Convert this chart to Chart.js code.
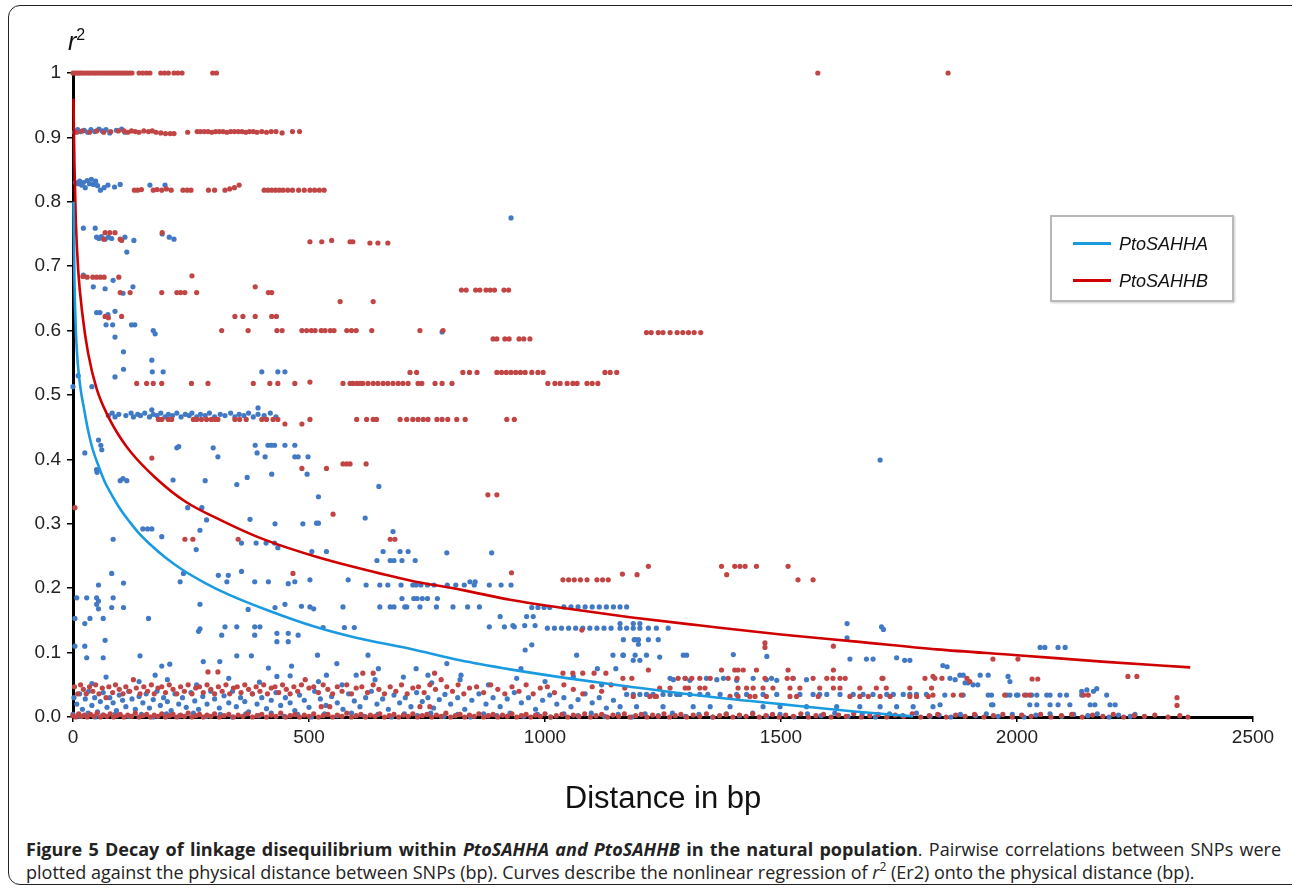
<!DOCTYPE html>
<html>
<head>
  <title>Decay of linkage disequilibrium</title>
  <script src="https://cdn.jsdelivr.net/npm/chart.js"></script>
  <style>
    body {
      margin: 0;
      width: 1292px;
      height: 888px;
      overflow: hidden;
      background: #ffffff;
      font-family: "Liberation Sans", Arial, sans-serif;
      position: relative;
    }
    .frame {
      position: absolute;
      left: 8px;
      top: 5px;
      width: 1296px;
      height: 878px;
      border: 1.5px solid #222;
      border-radius: 12px;
    }
    #ldChart {
      position: absolute;
      left: 0;
      top: 0;
    }
    .ylab {
      position: absolute;
      left: 68px;
      top: 26px;
      font-size: 25px;
      color: #111;
    }
    .ylab sup { font-size: 16px; vertical-align: 10px; }
    .legend {
      position: absolute;
      left: 1050px;
      top: 215px;
      width: 180px;
      height: 83px;
      border: 2px solid #b8b8b8;
      box-shadow: 1px 1px 2px rgba(0,0,0,0.2);
      background: #fff;
    }
    .legend .item {
      position: absolute;
      left: 21px;
      height: 20px;
      line-height: 20px;
      font-size: 18px;
      font-style: italic;
      color: #111;
    }
    .legend .swatch {
      display: inline-block;
      width: 38px;
      height: 3px;
      vertical-align: middle;
      margin-right: 8px;
      margin-top: -3px;
    }
    .caption {
      position: absolute;
      left: 26px;
      top: 838px;
      width: 1255px;
      font-family: "Open Sans", sans-serif;
      font-size: 18px;
      line-height: 23px;
      color: #222;
    }
    .caption div { height: 23px; white-space: nowrap; }
    .caption .l1 { text-align: justify; text-align-last: justify; }
    .caption sup { font-size: 12px; line-height: 0; position: relative; top: -1px; }
  </style>
</head>
<body>
  <div class="frame"></div>
  <canvas id="ldChart" width="1292" height="820"></canvas>
  <div class="ylab"><i>r</i><sup>2</sup></div>
  <div class="legend">
    <div class="item" style="top:17px"><span class="swatch" style="background:#1a9ae0"></span>PtoSAHHA</div>
    <div class="item" style="top:54px"><span class="swatch" style="background:#d00000"></span>PtoSAHHB</div>
  </div>
  <div class="caption">
    <div class="l1"><b>Figure 5 Decay of linkage disequilibrium within <i>PtoSAHHA and PtoSAHHB</i> in the natural population</b>. Pairwise correlations between SNPs were</div>
    <div>plotted against the physical distance between SNPs (bp). Curves describe the nonlinear regression of <i>r</i><sup>2</sup> (Er2) onto the physical distance (bp).</div>
  </div>

  <script>
    // axis labels
    const yTickLabels = ['0.0','0.1','0.2','0.3','0.4','0.5','0.6','0.7','0.8','0.9','1'];
    const xTickValues = [0, 500, 1000, 1500, 2000, 2500];

    // regression curves (bp, r2)
    const blueCurveX = [1,3,6,10,16,23,32,42,55,68,82,100,120,139,165,195,231,280,330,415,513,600,714,820,926,1050,1180,1330,1500,1650,1780];
    const blueCurveY = [0.80,0.68,0.60,0.55,0.51,0.48,0.445,0.415,0.388,0.364,0.345,0.323,0.303,0.286,0.267,0.248,0.229,0.208,0.19,0.165,0.14,0.123,0.106,0.088,0.074,0.06,0.047,0.033,0.02,0.009,0.001];
    const redCurveX = [1,3,6,11,20,32,50,75,100,124,174,237,315,400,510,600,714,826,926,1050,1180,1330,1500,1660,1830,2000,2180,2367];
    const redCurveY = [0.96,0.86,0.77,0.694,0.625,0.565,0.51,0.466,0.434,0.41,0.372,0.335,0.305,0.277,0.25,0.232,0.212,0.197,0.182,0.168,0.155,0.142,0.128,0.117,0.105,0.096,0.086,0.077];

    // PtoSAHHB pairs, upper rows
    const redRows = [
      [0,1],[4,1],[8,1],[12,1],[16,1],[20,1],[25,1],[30,1],[35,1],[40,1],[45,1],[50,1],[55,1],[60,1],[65,1],[70,1],[75,1],[80,1],[85,1],[90,1],[95,1],[100,1],[105,1],[110,1],[115,1],[120,1],[125,1],[140,1],[148,1],[156,1],[163,1],[186,1],[194,1],[202,1],[214,1],[222,1],[231,1],[296,1],[304,1],[1578,1],[1854,1],
      [8,.908],[20,.91],[35,.908],[50,.91],[65,.908],[80,.909],[96,.91],[108,.91],[116,.908],[124,.91],[132,.909],[140,.908],[150,.91],[160,.909],[168,.91],[176,.908],[186,.907],[196,.906],[206,.906],[214,.906],[243,.908],[263,.909],[270,.909],[278,.909],[286,.909],[294,.908],[302,.909],[310,.909],[318,.909],[326,.908],[334,.909],[342,.909],[350,.909],[358,.909],[366,.908],[374,.909],[382,.909],[390,.908],[400,.909],[410,.908],[420,.909],[430,.909],[443,.907],[465,.909],[480,.909],
      [130,.818],[137,.818],[145,.819],[170,.818],[178,.819],[188,.818],[198,.82],[208,.818],[233,.818],[242,.818],[250,.818],[287,.818],[300,.818],[322,.818],[332,.82],[342,.822],[352,.826],[405,.818],[413,.818],[421,.818],[429,.818],[437,.818],[445,.818],[455,.818],[465,.818],[478,.818],[490,.818],[502,.818],[512,.818],[522,.818],[532,.818],
      [68,.752],[78,.752],[89,.752],[65,.742],[100,.742],[103,.74],[189,.752],[502,.738],[527,.738],[548,.74],[587,.738],[593,.738],[629,.736],[646,.736],[667,.736],
      [21,.684],[30,.683],[42,.683],[50,.683],[58,.683],[66,.683],[97,.683],[252,.685],[100,.659],[121,.659],[188,.659],[220,.659],[228,.659],[237,.659],[262,.659],[386,.668],[414,.659],[421,.659],
      [566,.645],[636,.645],
      [823,.663],[833,.663],[853,.663],[862,.663],[875,.663],[884,.663],[893,.663],[913,.663],[923,.663],
      [68,.622],[75,.62],[103,.622],[343,.622],[360,.622],[386,.622],[421,.622],[431,.622],
      [315,.6],[371,.6],[432,.6],[443,.6],[485,.6],[495,.6],[505,.6],[513,.6],[526,.6],[534,.6],[545,.6],[553,.6],[580,.6],[590,.6],[600,.6],[633,.6],[735,.6],[784,.6],
      [890,.587],[898,.587],[915,.587],[924,.587],[945,.587],[955,.587],[968,.587],
      [1215,.597],[1225,.597],[1240,.597],[1250,.597],[1265,.597],[1280,.597],[1292,.597],[1304,.597],[1316,.597],[1330,.597]
    ];

    // PtoSAHHB pairs, middle rows and scattered points
    const redMid = [
      [714,.535],[728,.535],[826,.535],[840,.535],[856,.535],[898,.535],[908,.535],[918,.535],[928,.535],[938,.535],[948,.535],[958,.535],[972,.535],[985,.535],[996,.535],[1127,.535],[1138,.535],[1152,.535],
      [135,.518],[156,.518],[170,.518],[188,.518],[251,.518],[286,.518],[382,.518],[417,.518],[434,.518],[470,.518],[502,.52],
      [572,.518],[587,.518],[593,.518],[601,.518],[608,.518],[614,.518],[625,.518],[636,.518],[646,.518],[657,.518],[667,.518],[678,.518],[689,.518],[699,.518],[710,.518],[731,.518],[739,.518],[767,.518],[782,.518],[803,.518],
      [1006,.518],[1021,.518],[1032,.518],[1047,.518],[1059,.518],[1068,.518],[1089,.518],[1100,.518],[1112,.518],
      [181,.462],[188,.462],[202,.462],[209,.462],[255,.462],[262,.462],[272,.462],[283,.462],[293,.462],[301,.462],[307,.462],[343,.462],[353,.462],[367,.462],[400,.462],[410,.462],[424,.462],[434,.462],[449,.455],[485,.455],[502,.462],
      [601,.462],[622,.462],[636,.462],[643,.462],[693,.462],[707,.462],[720,.462],[731,.462],[742,.462],[752,.462],[771,.462],[782,.462],[794,.462],[813,.462],[831,.462],[919,.462],[935,.462],
      [4,.325],[167,.402],[485,.386],[537,.386],[572,.393],[580,.393],[587,.393],[621,.393],[879,.345],[898,.345],[551,.315],
      [237,.276],[254,.276],[350,.276],[672,.276],[682,.276],[466,.223],[929,.224],[1078,.135],
      [1038,.213],[1050,.213],[1062,.213],[1075,.213],[1089,.213],[1110,.213],[1122,.213],[1134,.213],[1164,.222],[1195,.221],[1219,.234],[1374,.234],[1385,.221],[1402,.234],[1413,.234],[1424,.234],[1448,.234],[1515,.234],[1536,.213],[1568,.213],
      [1466,.115],[1466,.108],[1611,.11],[1949,.09],[2002,.09]
    ];

    // PtoSAHHB pairs, low band 0.02-0.075
    const redBand = [
      [286,.07],[307,.07],[614,.068],[636,.068],[766,.068],[1038,.068],[1059,.068],[1080,.068],[1104,.068],[1129,.068],
      [1219,.073],[1374,.073],[1402,.073],[1409,.073],[1420,.073],[1448,.073],[1515,.073],[1611,.073],
      [3,.047],[10,.036],[16,.05],[22,.043],[28,.036],[35,.047],[42,.04],[48,.05],[55,.036],[62,.045],[70,.03],[76,.047],[84,.038],[90,.05],[98,.043],[106,.036],[112,.047],[120,.04],[128,.058],[134,.045],[142,.036],[150,.047],[158,.04],[166,.05],[172,.036],[180,.045],[188,.047],[196,.038],[204,.05],[212,.043],[220,.036],[228,.047],[236,.04],[244,.05],[252,.036],[260,.045],[268,.047],[276,.038],[284,.05],[292,.043],[300,.036],[308,.047],[316,.04],[324,.05],[332,.036],[340,.045],[348,.047],[356,.038],[364,.05],[372,.043],[380,.036],[388,.047],[396,.04],[404,.05],[412,.036],[420,.045],[428,.047],[436,.038],[444,.05],[452,.043],[460,.036],[468,.047],[476,.04],[484,.05],[492,.058],[500,.045],[510,.047],[520,.038],[530,.05],[540,.043],[550,.036],[560,.047],[570,.04],[580,.05],[590,.036],[600,.045],[612,.047],[624,.038],[636,.05],[648,.043],[660,.036],[672,.047],[684,.04],[696,.05],[708,.036],[720,.045],[732,.047],[744,.038],[756,.05],[768,.043],[780,.058],[792,.047],[804,.04],[816,.05],[828,.036],[840,.045],[855,.047],[870,.038],[885,.05],[900,.043],[915,.036],[930,.047],[945,.04],[960,.05],[975,.036],[990,.045],[1005,.047],[1020,.038],[1040,.05],[1060,.043],[1080,.036],[1100,.047],[1120,.04],[1140,.05],
      [526,.016],[544,.016],[735,.016],[756,.016],
      [1165,.06],[1184,.06],[1282,.06],[1297,.06],[1311,.06],[1328,.06],[1350,.06],[1388,.06],[1407,.06],[1466,.06],[1513,.06],[1525,.06],[1568,.06],[1597,.06],[1610,.06],[1625,.06],[1636,.06],[1714,.06],[1716,.06],[1805,.06],[1826,.06],
      [1169,.045],[1243,.045],[1265,.045],[1297,.045],[1304,.045],[1328,.045],[1339,.045],[1409,.045],[1427,.045],[1441,.045],[1462,.045],[1483,.045],[1519,.045],[1540,.045],[1582,.045],[1611,.045],[1625,.045],[1667,.045],[1702,.045],[1723,.045],[1773,.045],[1819,.045],
      [1187,.032],[1222,.032],[1233,.032],[1236,.032],[1392,.032],[1409,.032],[1434,.032],[1445,.032],[1469,.032],[1519,.032],[1533,.032],[1579,.032],[1646,.032],[1667,.032],[1685,.032],[1710,.032],[1731,.032],[1773,.032],[1787,.032],[1812,.032],
      [1822,.063],[1841,.06],[1894,.06],[1900,.055],[2032,.059],[2044,.059],[2235,.063],[2254,.063],
      [1822,.034],[1865,.034],[1882,.034],[1974,.034],[2016,.034],[2027,.034],[2141,.034],[2151,.034],[2339,.03],[2339,.018]
    ];

    // PtoSAHHB pairs at r2 close to zero
    const redZero = [
      [0,.002],[6,0],[12,.005],[18,.001],[24,.003],[30,0],[37,.004],[44,.001],[51,.006],[58,0],[65,.003],[72,.001],[79,.005],[86,0],[93,.002],[100,.004],[108,0],[116,.003],[124,.001],[132,.006],[140,0],[148,.002],[156,.004],[164,0],[172,.003],[180,.001],[188,.005],[196,0],[204,.002],[212,.004],[220,0],[228,.003],[236,.001],[244,.006],[252,0],[260,.002],[268,.004],[276,0],[284,.003],[292,.001],[300,.005],[310,0],[320,.002],[330,.004],[340,0],[350,.003],[360,.001],[370,.005],[380,0],[390,.002],[400,.004],[410,0],[420,.003],[430,.001],[440,.006],[450,0],[460,.002],[470,.004],[480,0],[490,.003],[500,.001],[510,.005],[520,0],[530,.002],[540,.004],[550,0],[560,.003],[570,.001],[580,.006],[590,0],[600,.002],[610,.004],[620,0],[630,.003],[640,.001],[650,.005],[660,0],[670,.002],[680,.004],[690,0],[700,.003],[710,.001],[720,.005],[730,0],[740,.002],[750,.004],[760,0],[770,.003],[780,.001],[790,.006],[800,0],[810,.002],[820,.004],[830,0],[840,.003],[850,.001],[860,.005],[870,0],[880,.002],[890,.004],[900,0],[910,.003],[920,.001],[930,.005],[940,0],[950,.002],[960,.004],[970,0],[980,.003],[990,.001],[1000,.005],[1012,0],[1024,.002],[1036,.004],[1048,0],[1060,.003],[1072,.001],[1084,.005],[1096,0],[1108,.002],[1120,.004],[1132,0],[1144,.003],[1156,.001],[1168,.005],[1180,0],[1192,.002],[1204,.004],[1216,0],[1228,.003],[1240,.001],[1252,.005],[1264,0],[1276,.002],[1288,.004],[1300,0],[1314,.003],[1328,.001],[1342,.005],[1356,0],[1370,.002],[1384,.004],[1398,0],[1412,.003],[1426,.001],[1440,.005],[1454,0],[1468,.002],[1482,.004],[1496,0],[1510,.003],[1526,.001],[1542,.005],[1558,0],[1574,.002],[1590,.004],[1606,0],[1622,.003],[1638,.001],[1654,.005],[1670,0],[1688,.002],[1706,.004],[1724,0],[1742,.003],[1760,.001],[1778,.005],[1796,0],[1814,.002],[1832,.004],[1850,0],[1870,.003],[1890,.001],[1910,.004],[1930,0],[1950,.002],[1970,.004],[1990,0],[2010,.003],[2030,.001],[2050,.004],[2072,0],[2094,.002],[2116,.004],[2138,0],[2160,.003],[2182,.001],[2204,.004],[2226,0],[2248,.002],[2270,.001],[2292,.003],[2320,0],[2345,.002],[2362,0]
    ];

    // PtoSAHHA pairs, upper rows
    const blueRows = [
      [3,.908],[10,.912],[16,.909],[24,.911],[31,.908],[38,.912],[46,.909],[55,.913],[62,.91],[70,.912],[78,.907],[92,.911],[103,.913],[110,.908],
      [5,.83],[10,.828],[14,.832],[18,.826],[22,.83],[26,.822],[30,.833],[35,.828],[39,.835],[43,.827],[48,.832],[52,.825],[58,.818],[66,.822],[74,.826],[88,.823],[100,.827],[163,.826],[195,.826],[928,.775],
      [22,.759],[47,.759],[50,.745],[55,.743],[60,.746],[68,.742],[75,.745],[82,.743],[110,.745],[129,.74],[114,.722],[189,.75],[204,.745],[214,.742],
      [22,.686],[43,.668],[68,.665],[85,.678],[106,.658],[127,.668],
      [50,.628],[57,.628],[74,.625],[89,.63],[70,.609],[84,.609],[124,.609],[131,.609],[170,.6],[174,.595],[89,.59],[782,.598],
      [107,.567],[167,.554],[168,.536],[191,.536],[107,.54],[89,.528],[11,.53],[0,.513],[40,.513],[400,.536],[434,.536],[449,.536]
    ];

    // PtoSAHHA pairs, middle part
    const blueMid = [
      [392,.48],[167,.477],
      [75,.468],[83,.472],[89,.466],[97,.47],[112,.468],[123,.472],[128,.466],[137,.47],[143,.468],[152,.472],[162,.466],[170,.47],[178,.468],[186,.472],[195,.466],[202,.47],[211,.468],[220,.472],[229,.466],[238,.47],[246,.468],[252,.472],[262,.466],[270,.47],[280,.468],[289,.472],[300,.466],[312,.47],[322,.468],[334,.472],[343,.466],[352,.47],[362,.468],[372,.472],[382,.466],[392,.47],[405,.468],[418,.472],[430,.466],
      [386,.422],[390,.41],[407,.404],[413,.422],[420,.422],[427,.422],[449,.422],[470,.422],[470,.404],[477,.404],[498,.404],[220,.418],[297,.418],[307,.404],[224,.42],
      [25,.41],[54,.43],[61,.415],[59,.422],[51,.38],[50,.384],[106,.37],[100,.367],[114,.367],[212,.368],[280,.367],[347,.361],[369,.372],[421,.377],[496,.377],
      [243,.325],[273,.325],[283,.306],[375,.307],[148,.292],[158,.292],[167,.292],[188,.28],[428,.30],[487,.30],[85,.276],[269,.29],[261,.26],[357,.27],[388,.27],[409,.27],[427,.27],[434,.263],
      [82,.223],[107,.208],[234,.223],[227,.21],[308,.22],[329,.22],[326,.21],[357,.226],[385,.21],[414,.21],[456,.207],[470,.21],[428,.17],[54,.205],
      [8,.185],[29,.185],[50,.185],[54,.18],[50,.175],[54,.168],[82,.17],[107,.17],[85,.185],[4,.153],[25,.145],[36,.153],[64,.153],[160,.153],
      [269,.137],[266,.133],[269,.175],[315,.127],[322,.14],[347,.14],[371,.167],[385,.14],[396,.14],[385,.127],[432,.13],[432,.117],[456,.13],[456,.117],[449,.175],[484,.172],[477,.127],[510,.168],
      [4,.11],[25,.11],[29,.092],[68,.119],[64,.092],[142,.095],[188,.079],[205,.082],[174,.065],[276,.086],[311,.086],[347,.095],[378,.095],[414,.076],[432,.063],[463,.079],
      [648,.358],[520,.342],[619,.309],[516,.301],[520,.301],[678,.288],[657,.257],[693,.257],[710,.257],[506,.257],[537,.257],[792,.255],[887,.255],
      [644,.243],[672,.243],[680,.243],[697,.243],[725,.243],[583,.213],[502,.213],[841,.21],[852,.21],
      [621,.205],[650,.205],[667,.205],[695,.205],[720,.205],[727,.205],[737,.205],[751,.205],[765,.205],[793,.205],[811,.205],[829,.205],[850,.205],[882,.205],[907,.205],[928,.205],
      [697,.184],[722,.184],[729,.184],[740,.184],[751,.184],[772,.184],
      [502,.171],[572,.171],[650,.171],[672,.171],[680,.171],[703,.171],[707,.171],[735,.171],[770,.171],[805,.171],[836,.171],[861,.171],
      [905,.156],[961,.156],[975,.156],[972,.17],[985,.17],[998,.17],[1010,.17],
      [1040,.171],[1055,.171],[1070,.171],[1085,.171],[1100,.171],[1115,.171],[1130,.171],[1145,.171],[1159,.171],[1173,.171],
      [1005,.138],[1020,.138],[1035,.138],[1050,.138],[1065,.138],[1080,.138],[1095,.138],[1110,.138],[1125,.138],[1140,.138],[1159,.138],[1173,.138],[1187,.138],[1201,.138],[1219,.138],[1236,.138],[1261,.138],
      [882,.14],[914,.14],[935,.14],[530,.139],[575,.139],[596,.139],[932,.142],[957,.142],[979,.142],[1159,.145],[1187,.145],[1201,.145],
      [1189,.12],[972,.112],[958,.104],[518,.096],[625,.096],[1067,.096],[1144,.096],[1165,.096],[559,.083],[792,.083],
      [647,.075],[727,.075],[949,.075],[1111,.075],[1150,.075],[537,.065],[600,.065],[752,.065],[822,.065],
      [1710,.399],[1166,.12],[1191,.12],[1198,.12],[1219,.12],[1240,.12],[1198,.113],[1166,.096],[1191,.096],[1215,.096],[1293,.096],[1300,.096],[1243,.093],[1187,.088],[1201,.088],
      [1399,.097],[1470,.094],[1646,.09],[1681,.09],[1695,.09],[1745,.092],[1762,.088],[1773,.088],[1640,.145],[1640,.123],[1713,.14],[1717,.136],
      [2049,.108],[2059,.108],[2087,.108],[2102,.108],[1843,.08],[1852,.078]
    ];

    // PtoSAHHA pairs, low band
    const blueBand = [
      [2,.03],[8,.02],[14,.036],[20,.012],[26,.028],[33,.04],[40,.018],[46,.03],[52,.008],[58,.024],[64,.038],[72,.015],[78,.03],[85,.022],[92,.01],[98,.034],[105,.026],[112,.016],[118,.04],[125,.028],[132,.012],[140,.032],[148,.022],[155,.036],[162,.014],[170,.027],[178,.04],[185,.018],[192,.03],[200,.024],[208,.01],[216,.036],[224,.02],[232,.03],[240,.015],[250,.038],[258,.025],[266,.012],[275,.032],[284,.02],[292,.04],[300,.028],[310,.014],[320,.033],[330,.022],[338,.04],[346,.016],[355,.03],[364,.024],[372,.008],[380,.036],[390,.02],[400,.03],[410,.013],[420,.026],[430,.038],[440,.018],[450,.03],[460,.022],[470,.01],[480,.034],[490,.026],[500,.015],[512,.04],[524,.028],[536,.018],[548,.032],[560,.022],[572,.012],[584,.036],[596,.025],[608,.016],[620,.03],[632,.04],[644,.02],[656,.028],[668,.012],[680,.034],[692,.022],[704,.03],[716,.016],[728,.038],[740,.024],[752,.03],[764,.014],[776,.027],[788,.035],[800,.02],[815,.03],[830,.012],[845,.026],[860,.036],[875,.02],[890,.03],[905,.016],[920,.028],[935,.038],[950,.022],[965,.03],[980,.012],[995,.026],[1010,.034],[1025,.02],[1040,.03],[1055,.016],[1070,.027],[1085,.036],[1100,.022],[1115,.03],[1130,.014],[1145,.026],
      [40,.052],[70,.062],[140,.055],[200,.058],[262,.05],[330,.06],[395,.054],[460,.064],[520,.055],[570,.05],[640,.058],[700,.062],[760,.053],[820,.058],[880,.05],[940,.06],[1000,.055],[1060,.063],[1120,.05],
      [1265,.06],[1272,.058],[1297,.06],[1307,.057],[1342,.06],[1364,.058],[1378,.06],[1406,.057],[1441,.06],[1469,.058],[1480,.06],[1491,.057],[1526,.06],[1554,.058],
      [1173,.035],[1187,.035],[1201,.035],[1215,.035],[1229,.035],[1250,.035],[1265,.035],[1279,.035],[1286,.035],[1307,.035],[1328,.035],[1345,.035],[1371,.035],[1406,.035],[1427,.035],[1462,.035],[1491,.035],[1540,.035],[1568,.035],[1582,.035],[1597,.035],[1625,.035],[1653,.035],[1674,.035],[1695,.035],[1724,.035],[1738,.035],[1759,.035],[1773,.035],[1787,.035],[1808,.035],
      [1159,.016],[1194,.016],[1250,.016],[1314,.016],[1350,.016],[1392,.016],[1462,.016],[1498,.016],[1554,.016],[1618,.016],[1667,.016],[1710,.016],[1745,.016],[1780,.016],[1822,.016],
      [1858,.06],[1869,.058],[1879,.065],[1886,.065],[1890,.053],[1896,.053],[1907,.05],[1917,.05],[1922,.065],[1939,.065],[1981,.063],[1985,.055],
      [2137,.04],[2148,.042],[2162,.04],[2169,.044],
      [1847,.034],[1886,.034],[1939,.034],[1946,.034],[1978,.034],[1985,.034],[1999,.034],[2002,.034],[2020,.034],[2031,.034],[2042,.034],[2063,.034],[2070,.034],[2091,.034],[2105,.034],[2137,.034],[2190,.034],
      [1837,.019],[1946,.019],[1949,.019],[2027,.019],[2042,.019],[2070,.019],[2087,.019],[2112,.019],[2155,.019],[2165,.019],[2197,.019],[2208,.019]
    ];

    // PtoSAHHA pairs at r2 close to zero
    const blueZero = [
      [0,.004],[15,.001],[32,.006],[47,0],[63,.003],[90,.005],[118,.001],[145,.004],[170,0],[198,.005],[226,.002],[255,.006],[283,.001],[312,.004],[338,0],[366,.005],[394,.002],[420,.006],[448,.001],[476,.004],[505,0],[533,.005],[560,.002],[590,.006],[618,.001],[646,.004],[675,0],[702,.005],[730,.002],[758,.006],[786,.001],[815,.004],[842,0],[870,.005],[898,.002],[926,.006],[955,.001],[984,.004],[1012,0],[1040,.005],[1070,.002],[1098,.006],[1126,.001],[1155,.004],[1184,0],[1212,.005],[1240,.002],[1270,.006],[1298,.001],[1326,.004],[1355,0],[1384,.005],[1412,.002],[1440,.006],[1470,.001],[1498,.004],[1528,0],[1556,.005],[1585,.002],[1614,.006],[1642,.001],[1672,.004],[1700,0],[1730,.005],[1758,.002],[1787,.006],[1816,.001],[1835,.003],[1860,0],[1880,.004],[1912,.002],[1935,.005],[1960,.001],[1990,.004],[2015,0],[2040,.003],[2070,.005],[2095,.001],[2120,.004],[2150,.002],[2170,.005],[2195,0],[2215,.003],[2240,.001],[2250,.004]
    ];

    const toXY = arr => arr.map(p => ({ x: p[0], y: p[1] }));
    const curveXY = (xs, ys) => xs.map((x, i) => ({ x: x, y: ys[i] }));
    const axisFont = { family: '"Liberation Sans", Arial, sans-serif', size: 19 };

    const ctx = document.getElementById('ldChart').getContext('2d');
    const chart = new Chart(ctx, {
      type: 'scatter',
      data: {
        datasets: [
          {
            label: 'PtoSAHHA',
            type: 'line',
            data: curveXY(blueCurveX, blueCurveY),
            borderColor: '#1a9ae0',
            borderWidth: 2.6,
            pointRadius: 0,
            fill: false,
            cubicInterpolationMode: 'monotone',
            order: 0,
            clip: false
          },
          {
            label: 'PtoSAHHB',
            type: 'line',
            data: curveXY(redCurveX, redCurveY),
            borderColor: '#d00000',
            borderWidth: 2.6,
            pointRadius: 0,
            fill: false,
            cubicInterpolationMode: 'monotone',
            order: 0,
            clip: false
          },
          {
            label: 'PtoSAHHB pairs',
            data: toXY(redRows.concat(redMid, redBand, redZero)),
            backgroundColor: '#c24545',
            borderWidth: 0,
            pointRadius: 2.6,
            order: 1,
            clip: false
          },
          {
            label: 'PtoSAHHA pairs',
            data: toXY(blueRows.concat(blueMid, blueBand, blueZero)),
            backgroundColor: '#4179c4',
            borderWidth: 0,
            pointRadius: 2.6,
            order: 2,
            clip: false
          }
        ]
      },
      options: {
        responsive: false,
        animation: false,
        events: [],
        layout: { padding: { top: 73, right: 39, bottom: 0, left: 0 } },
        plugins: {
          legend: { display: false },
          tooltip: { enabled: false }
        },
        scales: {
          x: {
            type: 'linear',
            min: 0,
            max: 2500,
            afterBuildTicks: scale => { scale.ticks = xTickValues.map(v => ({ value: v })); },
            afterFit: scale => { scale.height = 103; },
            border: { display: true, color: '#000', width: 3 },
            grid: { display: true, drawOnChartArea: false, drawTicks: true, tickLength: 5, color: '#000', lineWidth: 1.5 },
            ticks: {
              color: '#222',
              padding: 4,
              maxRotation: 0,
              font: axisFont,
              callback: v => String(v)
            },
            title: {
              display: true,
              text: 'Distance in bp',
              color: '#111',
              padding: { top: 0, bottom: 2 },
              font: { family: '"Liberation Sans", Arial, sans-serif', size: 31 }
            }
          },
          y: {
            min: 0,
            max: 1,
            afterFit: scale => { scale.width = 73; },
            border: { display: true, color: '#000', width: 3 },
            grid: { display: true, drawOnChartArea: false, drawTicks: true, tickLength: 6, color: '#000', lineWidth: 1.5 },
            ticks: {
              stepSize: 0.1,
              color: '#222',
              padding: 6,
              font: axisFont,
              callback: (v, i) => yTickLabels[i]
            }
          }
        }
      }
    });
  </script>
</body>
</html>
